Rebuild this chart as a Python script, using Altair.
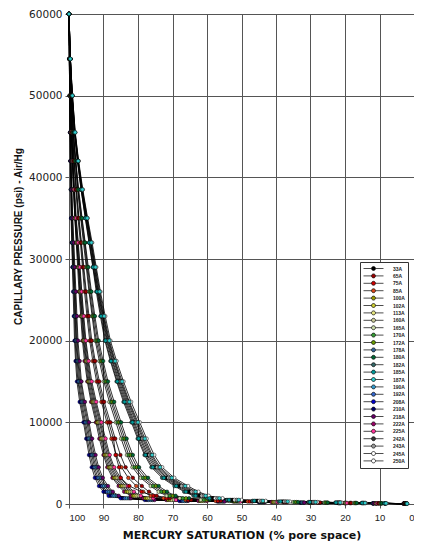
import altair as alt
import pandas as pd

PRESSURE = [60000, 54500, 50000, 45500, 42000, 38500, 35000, 32000, 29000, 26000,
            23000, 20000, 17500, 15000, 12500, 10000, 8000, 6000, 4500, 3200,
            2200, 1500, 1000, 700, 500, 380, 300, 230, 170, 120, 80, 40]

SERIES = ["33A", "65A", "75A", "85A", "100A", "102A", "113A", "160A", "165A",
          "170A", "172A", "178A", "180A", "182A", "185A", "187A", "190A", "192A",
          "208A", "210A", "218A", "222A", "225A", "242A", "243A", "245A", "250A"]

COLORS = ["#000000", "#990000", "#CC0000", "#D9471A", "#999900", "#CCCC33", "#E6E680",
          "#CCCC99", "#CCDDAA", "#339933", "#669900", "#336699", "#006633", "#336666",
          "#009999", "#33CCCC", "#3399CC", "#3366CC", "#0000CC", "#000066", "#660066",
          "#990066", "#FF3399", "#333333", "#999999", "#FFFFFF", "#FFFFFF"]

# drawing order (left-most curves first, right-most last)
DRAW_ORDER = ["208A", "210A", "192A", "190A", "178A", "218A", "222A", "100A", "102A",
              "113A", "160A", "225A", "85A", "75A", "65A", "165A", "170A", "172A",
              "180A", "182A", "242A", "33A", "245A", "243A", "250A", "185A", "187A"]

SAT_208A = [100, 99.9, 99.8, 99.7, 99.6, 99.5, 99.4, 99.2, 99.0, 98.8, 98.6, 98.4, 98.1, 97.7, 96.9, 95.8, 95.0, 94.2, 93.4, 92.5, 91.3, 90.0, 88.5, 85.0, 78.0, 68.0, 57.0, 45.0, 33.0, 22.0, 12.0, 3.0]
SAT_210A = [100, 99.9, 99.8, 99.7, 99.6, 99.4, 99.3, 99.1, 98.9, 98.6, 98.4, 98.2, 97.9, 97.4, 96.6, 95.5, 94.7, 93.8, 93.0, 92.0, 90.8, 89.5, 87.9, 84.4, 77.4, 67.5, 56.6, 44.7, 32.8, 21.8, 11.9, 3.0]
SAT_192A = [100, 99.9, 99.8, 99.6, 99.5, 99.4, 99.2, 99.0, 98.7, 98.5, 98.2, 98.0, 97.6, 97.2, 96.3, 95.2, 94.3, 93.4, 92.6, 91.6, 90.3, 88.9, 87.3, 83.8, 76.9, 67.0, 56.2, 44.3, 32.5, 21.7, 11.8, 3.0]
SAT_190A = [100, 99.9, 99.8, 99.6, 99.5, 99.3, 99.1, 98.9, 98.6, 98.3, 98.1, 97.8, 97.4, 96.9, 96.0, 94.8, 94.0, 93.1, 92.2, 91.1, 89.8, 88.3, 86.8, 83.2, 76.3, 66.5, 55.7, 44.0, 32.3, 21.5, 11.8, 2.9]
SAT_178A = [100, 99.9, 99.7, 99.6, 99.4, 99.2, 99.0, 98.7, 98.5, 98.2, 97.9, 97.6, 97.2, 96.6, 95.7, 94.5, 93.6, 92.7, 91.8, 90.7, 89.2, 87.8, 86.2, 82.6, 75.8, 66.0, 55.3, 43.6, 32.0, 21.4, 11.7, 2.9]
SAT_218A = [100, 99.9, 99.7, 99.6, 99.4, 99.2, 98.9, 98.6, 98.3, 98.0, 97.7, 97.4, 96.9, 96.4, 95.4, 94.2, 93.3, 92.3, 91.4, 90.2, 88.7, 87.3, 85.6, 82.1, 75.2, 65.5, 54.9, 43.3, 31.8, 21.2, 11.6, 2.9]
SAT_222A = [100, 99.8, 99.6, 99.4, 99.1, 98.7, 98.3, 97.9, 97.5, 97.1, 96.6, 96.1, 95.5, 94.7, 93.6, 92.2, 91.2, 90.0, 88.9, 87.4, 85.6, 84.0, 82.1, 78.5, 71.8, 62.5, 52.4, 41.3, 30.4, 20.2, 11.1, 2.8]
SAT_100A = [100, 99.8, 99.6, 99.3, 99.0, 98.7, 98.3, 97.8, 97.3, 96.9, 96.4, 95.9, 95.2, 94.5, 93.3, 91.9, 90.8, 89.7, 88.5, 87.0, 85.1, 83.4, 81.5, 77.9, 71.3, 62.0, 52.0, 40.9, 30.1, 20.1, 11.0, 2.8]
SAT_102A = [100, 99.8, 99.6, 99.3, 99.0, 98.6, 98.2, 97.7, 97.2, 96.8, 96.2, 95.7, 95.0, 94.2, 93.0, 91.6, 90.5, 89.3, 88.1, 86.5, 84.6, 82.9, 81.0, 77.3, 70.7, 61.5, 51.5, 40.6, 29.9, 19.9, 11.0, 2.7]
SAT_113A = [100, 99.8, 99.6, 99.3, 98.9, 98.5, 98.1, 97.6, 97.1, 96.6, 96.1, 95.5, 94.8, 93.9, 92.7, 91.2, 90.1, 88.9, 87.7, 86.1, 84.1, 82.3, 80.4, 76.7, 70.2, 61.0, 51.1, 40.2, 29.6, 19.8, 10.9, 2.7]
SAT_160A = [100, 99.8, 99.6, 99.3, 98.9, 98.5, 98.0, 97.4, 96.9, 96.4, 95.9, 95.3, 94.5, 93.7, 92.4, 90.9, 89.8, 88.5, 87.3, 85.6, 83.6, 81.8, 79.8, 76.2, 69.6, 60.5, 50.7, 39.9, 29.4, 19.6, 10.8, 2.7]
SAT_225A = [100, 99.8, 99.5, 99.2, 98.8, 98.4, 97.9, 97.3, 96.8, 96.3, 95.7, 95.1, 94.3, 93.4, 92.1, 90.6, 89.4, 88.2, 86.9, 85.1, 83.0, 81.2, 79.2, 75.6, 69.0, 60.0, 50.3, 39.6, 29.2, 19.4, 10.7, 2.7]
SAT_85A = [100, 99.8, 99.5, 99.1, 98.6, 98.0, 97.4, 96.7, 96.1, 95.5, 94.8, 94.0, 93.1, 92.0, 90.6, 89.0, 87.7, 86.3, 84.8, 82.8, 80.5, 78.5, 76.3, 72.6, 66.2, 57.5, 48.2, 37.9, 28.0, 18.6, 10.3, 2.6]
SAT_75A = [100, 99.8, 99.4, 99.0, 98.5, 97.9, 97.2, 96.5, 95.9, 95.2, 94.5, 93.7, 92.7, 91.6, 90.2, 88.5, 87.1, 86.5, 85.5, 85.0, 82.5, 79.0, 75.5, 71.7, 65.4, 56.8, 47.6, 37.4, 27.6, 18.4, 10.2, 2.6]
SAT_65A = [100, 99.8, 99.4, 99.0, 98.5, 97.8, 97.1, 96.4, 95.7, 95.0, 94.2, 93.4, 92.4, 91.2, 89.8, 88.0, 86.6, 85.1, 83.6, 81.5, 78.9, 76.8, 74.6, 70.8, 64.6, 56.0, 46.9, 36.8, 27.2, 18.2, 10.1, 2.5]
SAT_165A = [100, 99.7, 99.3, 98.8, 98.2, 97.5, 96.6, 95.8, 95.0, 94.2, 93.3, 92.4, 91.2, 89.9, 88.3, 86.4, 84.9, 83.2, 81.6, 79.2, 76.3, 74.0, 71.7, 67.9, 61.8, 53.5, 44.8, 35.1, 26.0, 17.4, 9.7, 2.4]
SAT_170A = [100, 99.7, 99.3, 98.8, 98.1, 97.4, 96.5, 95.6, 94.8, 94.0, 93.1, 92.1, 90.8, 89.5, 87.8, 85.9, 84.3, 82.7, 81.0, 78.5, 75.6, 73.2, 70.8, 67.0, 60.9, 52.8, 44.2, 34.6, 25.7, 17.1, 9.6, 2.4]
SAT_172A = [100, 99.7, 99.3, 98.7, 98.1, 97.3, 96.3, 95.4, 94.6, 93.7, 92.8, 91.7, 90.5, 89.1, 87.4, 85.4, 83.8, 82.1, 80.3, 77.8, 74.8, 72.4, 69.9, 66.1, 60.1, 52.0, 43.6, 34.1, 25.3, 16.9, 9.4, 2.4]
SAT_180A = [100, 99.7, 99.3, 98.7, 98.0, 97.2, 96.2, 95.3, 94.4, 93.5, 92.5, 91.4, 90.1, 88.7, 86.9, 84.9, 83.3, 81.5, 79.7, 77.1, 74.0, 71.6, 69.1, 65.2, 59.2, 51.3, 42.9, 33.6, 25.0, 16.6, 9.3, 2.3]
SAT_182A = [100, 99.6, 99.1, 98.4, 97.6, 96.5, 95.3, 94.2, 93.1, 92.1, 90.9, 89.6, 88.0, 86.2, 84.2, 81.9, 80.1, 78.1, 76.1, 73.0, 69.4, 66.6, 63.9, 59.9, 54.2, 46.8, 39.2, 30.6, 22.8, 15.2, 8.6, 2.2]
SAT_185A = [100, 99.6, 99.1, 98.4, 97.5, 96.5, 95.2, 94.1, 93.0, 91.9, 90.7, 89.4, 87.8, 86.0, 83.9, 81.6, 79.8, 77.8, 75.7, 72.5, 68.9, 66.1, 63.3, 59.3, 53.6, 46.3, 38.7, 30.2, 22.6, 15.0, 8.5, 2.1]
SAT_242A = [100, 99.6, 99.1, 98.4, 97.5, 96.4, 95.1, 94.0, 92.9, 91.8, 90.5, 89.1, 87.5, 85.7, 83.6, 81.3, 79.4, 77.4, 75.2, 72.0, 68.3, 65.5, 62.7, 58.7, 53.1, 45.8, 38.3, 29.9, 22.3, 14.9, 8.4, 2.1]
SAT_33A = [100, 99.6, 99.1, 98.3, 97.4, 96.3, 95.0, 93.8, 92.7, 91.6, 90.3, 88.9, 87.3, 85.4, 83.3, 81.0, 79.1, 77.0, 74.8, 71.6, 67.8, 65.0, 62.1, 58.2, 52.5, 45.3, 37.9, 29.5, 22.1, 14.7, 8.4, 2.1]
SAT_245A = [100, 99.6, 99.1, 98.3, 97.4, 96.2, 94.9, 93.7, 92.6, 91.5, 90.1, 88.7, 87.0, 85.1, 83.0, 80.6, 78.7, 76.6, 74.4, 71.1, 67.3, 64.4, 61.5, 57.6, 52.0, 44.8, 37.5, 29.2, 21.8, 14.6, 8.3, 2.1]
SAT_243A = [100, 99.6, 99.0, 98.3, 97.3, 96.2, 94.8, 93.6, 92.4, 91.3, 90.0, 88.5, 86.8, 84.9, 82.7, 80.3, 78.4, 76.2, 74.0, 70.7, 66.8, 63.9, 61.0, 57.0, 51.4, 44.3, 37.1, 28.9, 21.6, 14.4, 8.2, 2.1]
SAT_187A = [100, 99.6, 99.0, 98.2, 97.3, 96.1, 94.7, 93.5, 92.3, 91.1, 89.8, 88.3, 86.6, 84.6, 82.5, 80.0, 78.0, 75.9, 73.6, 70.2, 66.3, 63.3, 60.4, 56.4, 50.8, 43.8, 36.6, 28.5, 21.4, 14.2, 8.1, 2.0]
SAT_250A = [100, 99.6, 99.0, 98.2, 97.2, 96.0, 94.6, 93.3, 92.1, 90.9, 89.5, 88.0, 86.2, 84.2, 82.0, 79.5, 77.5, 75.3, 73.0, 69.5, 65.5, 62.5, 59.5, 55.5, 50.0, 43.0, 36.0, 28.0, 21.0, 14.0, 8.0, 2.0]

SATURATION = {
    "33A": SAT_33A, "65A": SAT_65A, "75A": SAT_75A, "85A": SAT_85A, "100A": SAT_100A,
    "102A": SAT_102A, "113A": SAT_113A, "160A": SAT_160A, "165A": SAT_165A,
    "170A": SAT_170A, "172A": SAT_172A, "178A": SAT_178A, "180A": SAT_180A,
    "182A": SAT_182A, "185A": SAT_185A, "187A": SAT_187A, "190A": SAT_190A,
    "192A": SAT_192A, "208A": SAT_208A, "210A": SAT_210A, "218A": SAT_218A,
    "222A": SAT_222A, "225A": SAT_225A, "242A": SAT_242A, "243A": SAT_243A,
    "245A": SAT_245A, "250A": SAT_250A,
}

rows = []
for s in DRAW_ORDER:
    for i, (p, v) in enumerate(zip(PRESSURE, SATURATION[s])):
        rows.append({"series": s, "idx": i, "pressure": p, "sat": v})
df = pd.DataFrame(rows)

x_enc = alt.X("sat:Q",
              scale=alt.Scale(domain=[0, 100], reverse=True, nice=False),
              axis=alt.Axis(values=list(range(0, 101, 10)),
                            title="MERCURY SATURATION (% pore space)",
                            labelFont="Liberation Sans", labelFontSize=9.5,
                            labelPadding=4,
                            titleFont="DejaVu Sans", titleFontSize=11,
                            titleFontWeight="bold", titlePadding=8))
y_enc = alt.Y("pressure:Q",
              scale=alt.Scale(domain=[0, 60000], nice=False),
              axis=alt.Axis(values=list(range(0, 60001, 10000)), format="d",
                            title="CAPILLARY PRESSURE (psi) - Air/Hg",
                            labelFont="DejaVu Sans", labelFontSize=10.5,
                            labelPadding=3,
                            titleFont="Liberation Sans", titleFontSize=10,
                            titleFontWeight="bold", titleX=-46, titleY=222))

lines = alt.Chart(df).mark_line(color="black", strokeWidth=0.8).encode(
    x=x_enc, y=y_enc, detail="series:N", order="idx:Q")

SYMBOL = ("M-3.33,0H-0.67M0.67,0H3.33"
          "M-0.67,0A0.67,0.67 0 1 1 0.67,0A0.67,0.67 0 1 1 -0.67,0Z")

points = alt.Chart(df).mark_point(filled=True, size=13, stroke="black",
                                  strokeWidth=0.5, opacity=1).encode(
    x=x_enc, y=y_enc,
    fill=alt.Fill("series:N",
                  scale=alt.Scale(domain=SERIES, range=COLORS),
                  legend=alt.Legend(title=None, orient="none", legendX=291, legendY=248,
                                    padding=3, strokeColor="#333", fillColor="white",
                                    symbolType=SYMBOL, symbolSize=36, symbolOffset=7,
                                    symbolStrokeColor="black", symbolStrokeWidth=0.7,
                                    rowPadding=0.4, labelOffset=16,
                                    labelFont="Liberation Sans", labelFontSize=5,
                                    labelFontWeight="bold", labelColor="#222",
                                    columns=1)))

chart = alt.layer(lines, points).properties(
    width=345, height=490,
    autosize=alt.AutoSizeParams(type="none"),
    padding={"left": 61, "top": 6, "right": 0, "bottom": 38},
    background="white",
).configure_view(stroke="#555", strokeWidth=1).configure_axis(
    gridColor="#555", gridWidth=1, domainColor="#555", tickColor="#555",
    tickSize=4, labelColor="#222", titleColor="#111")

chart.save("out.html", embed_options={"renderer": "svg", "actions": False})
